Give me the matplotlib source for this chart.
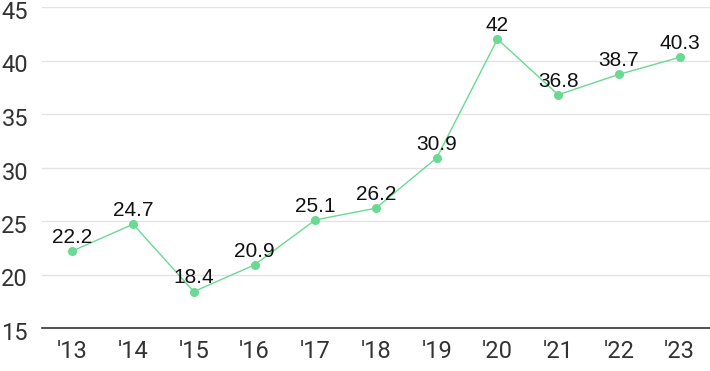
import matplotlib
matplotlib.use("Agg")
import matplotlib.pyplot as plt
import matplotlib.transforms as mtransforms

years = ["'13", "'14", "'15", "'16", "'17", "'18", "'19", "'20", "'21", "'22", "'23"]
values = [22.2, 24.7, 18.4, 20.9, 25.1, 26.2, 30.9, 42, 36.8, 38.7, 40.3]
y_ticks = [15, 20, 25, 30, 35, 40, 45]

line_color = "#6ad993"

fig = plt.figure(figsize=(7.1, 3.71), dpi=100)
ax = fig.add_axes([42 / 710, 1 - 328 / 371, 668 / 710, 321 / 371])

x = list(range(len(values)))
ax.plot(x, values, color=line_color, lw=1, marker="o", ms=5.5, mec=line_color, mfc=line_color, zorder=3)

for xi, v in zip(x, values):
    ax.annotate(f"{v:g}", (xi, v), xytext=(0, 3), textcoords="offset points",
                ha="center", va="bottom", fontsize=15, family="Liberation Sans", color="#111111")

ax.set_xlim(-0.5, len(values) - 0.5)
ax.set_ylim(15, 45)
ax.set_yticks(y_ticks)
ax.set_xticks(x)
ax.set_xticklabels(years)
ax.grid(axis="y", color="#e3e3e3", lw=1)
ax.set_axisbelow(True)

for s in ["top", "right", "left"]:
    ax.spines[s].set_visible(False)
ax.spines["bottom"].set_color("#333333")
ax.spines["bottom"].set_linewidth(1.2)

ax.tick_params(axis="both", length=0, labelsize=17, labelcolor="#333333")
ax.tick_params(axis="y", pad=10)
ax.tick_params(axis="x", pad=9)
shift = mtransforms.ScaledTranslation(0, -3 / 100, fig.dpi_scale_trans)
for lab in ax.get_yticklabels():
    lab.set_transform(lab.get_transform() + shift)
for lab in ax.get_xticklabels() + ax.get_yticklabels():
    lab.set_family("Roboto")

fig.savefig("out.png", dpi=100)
